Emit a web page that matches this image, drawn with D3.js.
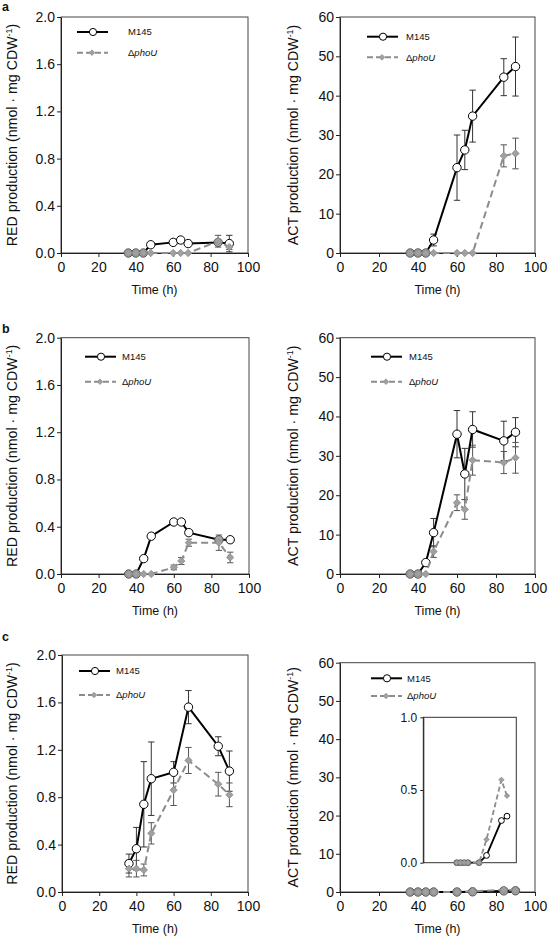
<!DOCTYPE html>
<html><head><meta charset="utf-8">
<script src="https://cdn.jsdelivr.net/npm/d3@7"></script>
<style>body{margin:0;background:#fff;} svg{display:block;font-family:"Liberation Sans",Arial,sans-serif;}</style>
</head><body>
<svg id="chart" width="548" height="939"></svg>
<script>
// ---------------- DATA ----------------
const timesAB = [36, 40, 44, 48, 60, 64, 68, 84, 90];
const timesC  = [36, 40, 44, 48, 60, 68, 84, 90];
const xTicks = [0, 20, 40, 60, 80, 100];
const redTicks = [0, 0.4, 0.8, 1.2, 1.6, 2.0];
const actTicks = [0, 10, 20, 30, 40, 50, 60];
const insetTicks = [0, 0.5, 1.0];
const seriesNames = ["M145", "ΔphoU"];
const panelLetters = ["a", "b", "c"];

// Row a
const redA_M145     = [0, 0, 0, 0.07, 0.09, 0.11, 0.08, 0.09, 0.08];
const redA_M145Err  = [0, 0, 0, 0.01, 0.01, 0.01, 0.01, 0.02, 0.07];
const redA_phoU     = [0, 0, 0, 0, 0, 0, 0, 0.10, 0.05];
const redA_phoUErr  = [0, 0, 0, 0, 0, 0, 0, 0.05, 0.02];
const actA_M145     = [0, 0, 0, 3.3, 21.7, 26.2, 34.8, 44.7, 47.4];
const actA_M145Err  = [0, 0, 0, 1.5, 8.3, 5.0, 6.6, 4.7, 7.5];
const actA_phoU     = [0, 0, 0, 0, 0, 0, 0, 24.7, 25.3];
const actA_phoUErr  = [0, 0, 0, 0, 0, 0, 0, 2.8, 3.9];
// Row b
const redB_M145     = [0, 0, 0.13, 0.32, 0.44, 0.44, 0.35, 0.29, 0.29];
const redB_M145Err  = [0, 0, 0.01, 0.01, 0.01, 0.01, 0.02, 0.02, 0.02];
const redB_phoU     = [0, 0, 0, 0, 0.056, 0.11, 0.265, 0.265, 0.14];
const redB_phoUErr  = [0, 0, 0, 0, 0.02, 0.03, 0.03, 0.065, 0.045];
const actB_M145     = [0, 0, 2.9, 10.5, 35.5, 25.4, 36.7, 33.8, 36.0];
const actB_M145Err  = [0, 0, 0.5, 3.6, 6.0, 6.5, 4.5, 5.0, 3.7];
const actB_phoU     = [0, 0, 0, 5.7, 18.1, 16.4, 28.9, 28.3, 29.5];
const actB_phoUErr  = [0, 0, 0, 1.5, 2.0, 2.5, 3.8, 2.8, 3.9];
// Row c
const redC_M145     = [0.24, 0.365, 0.74, 0.956, 1.01, 1.56, 1.23, 1.02];
const redC_M145Err  = [0.08, 0.18, 0.36, 0.31, 0.09, 0.14, 0.08, 0.17];
const redC_phoU     = [0.197, 0.197, 0.186, 0.495, 0.86, 1.11, 0.91, 0.82];
const redC_phoUErr  = [0.07, 0.07, 0.05, 0.09, 0.13, 0.11, 0.10, 0.10];
const actC_M145     = [0, 0, 0, 0, 0, 0.05, 0.29, 0.32];
const actC_M145Err  = [0, 0, 0, 0, 0, 0, 0, 0];
const actC_phoU     = [0, 0, 0, 0, 0, 0.16, 0.57, 0.46];
const actC_phoUErr  = [0, 0, 0, 0, 0, 0, 0, 0];

// ---------------- DRAWING ----------------
const svg = d3.select("#chart");
const FONT_TICK = 14, FONT_YTITLE = 14.2, FONT_XTITLE = 12.5, FONT_LEG = 9.5;

function yTitle(g, cx, cy, kind) {
  const t = g.append("text")
    .attr("transform", `translate(${cx},${cy}) rotate(-90)`)
    .attr("text-anchor", "middle")
    .attr("font-size", FONT_YTITLE)
    .attr("fill", "#111");
  t.append("tspan").text(kind + " production (nmol · mg CDW");
  t.append("tspan").attr("font-size", FONT_YTITLE * 0.62).attr("dy", -5.5).text("-1");
  t.append("tspan").attr("dy", 5.5).text(")");
}

function drawSeries(g, x, y, times, m, mErr, p, pErr, opt) {
  const rC = opt.rC, dSide = opt.dSide;
  const line = d3.line().x((d, i) => x(times[i])).y(d => y(d));
  const errs = [];
  times.forEach((t, i) => {
    if (mErr[i] > 0) errs.push({ t, v: m[i], e: mErr[i], c: "#333" });
    if (pErr[i] > 0) errs.push({ t, v: p[i], e: pErr[i], c: "#555" });
  });
  const eg = g.append("g");
  errs.forEach(d => {
    const cx = x(d.t), y1 = y(Math.max(0, d.v - d.e)), y2 = y(d.v + d.e);
    eg.append("line").attr("x1", cx).attr("x2", cx).attr("y1", y1).attr("y2", y2).attr("stroke", d.c).attr("stroke-width", 1);
    eg.append("line").attr("x1", cx - 3.2).attr("x2", cx + 3.2).attr("y1", y2).attr("y2", y2).attr("stroke", d.c).attr("stroke-width", 1);
    if (d.v - d.e > 0)
      eg.append("line").attr("x1", cx - 3.2).attr("x2", cx + 3.2).attr("y1", y1).attr("y2", y1).attr("stroke", d.c).attr("stroke-width", 1);
  });
  g.append("path").attr("d", line(m)).attr("fill", "none").attr("stroke", "#000").attr("stroke-width", opt.lw);
  g.selectAll(null).data(m).enter().append("circle")
    .attr("cx", (d, i) => x(times[i])).attr("cy", d => y(d)).attr("r", rC)
    .attr("fill", (d, i) => Math.abs(y(d) - y(p[i])) < 3 ? "#a4a4a4" : "#fff")
    .attr("stroke", (d, i) => Math.abs(y(d) - y(p[i])) < 3 ? "#555" : "#000")
    .attr("stroke-width", 1);
  g.append("path").attr("d", line(p)).attr("fill", "none").attr("stroke", "#8c8c8c")
    .attr("stroke-width", opt.lw).attr("stroke-dasharray", opt.dash);
  const sym = d3.symbol().type(d3.symbolSquare).size(dSide * dSide);
  g.selectAll(null).data(p).enter().append("path")
    .attr("d", sym)
    .attr("transform", (d, i) => `translate(${x(times[i])},${y(d)}) rotate(45)`)
    .attr("fill", "#a0a0a0").attr("stroke", "#8a8a8a").attr("stroke-width", 0.7);
}

function legend(g, lx, ly, dy, textDx) {
  g.append("line").attr("x1", lx).attr("x2", lx + 31).attr("y1", ly).attr("y2", ly).attr("stroke", "#000").attr("stroke-width", 2);
  g.append("circle").attr("cx", lx + 16).attr("cy", ly).attr("r", 3.6).attr("fill", "#fff").attr("stroke", "#000");
  g.append("text").attr("x", lx + textDx).attr("y", ly + 3.4).attr("font-size", FONT_LEG).attr("fill", "#111").text(seriesNames[0]);
  const y2 = ly + dy;
  g.append("line").attr("x1", lx).attr("x2", lx + 31).attr("y1", y2).attr("y2", y2).attr("stroke", "#8c8c8c").attr("stroke-width", 2).attr("stroke-dasharray", "6,3");
  g.append("path").attr("d", d3.symbol().type(d3.symbolSquare).size(16)).attr("transform", `translate(${lx + 15},${y2}) rotate(45)`).attr("fill", "#a0a0a0").attr("stroke", "#8a8a8a").attr("stroke-width", 0.6);
  const t = g.append("text").attr("x", lx + textDx).attr("y", y2 + 3.4).attr("font-size", FONT_LEG).attr("fill", "#111");
  t.append("tspan").text(seriesNames[1].charAt(0));
  t.append("tspan").attr("font-style", "italic").text(seriesNames[1].slice(1));
}

function panel(cfg) {
  const g = svg.append("g");
  const x = d3.scaleLinear().domain([0, 100]).range([cfg.l, cfg.r]);
  const y = d3.scaleLinear().domain([cfg.ticks[0], cfg.ticks[cfg.ticks.length - 1]]).range([cfg.b, cfg.t]);
  g.append("rect").attr("x", cfg.l).attr("y", cfg.t).attr("width", cfg.r - cfg.l).attr("height", cfg.b - cfg.t)
    .attr("fill", "none").attr("stroke", "#444").attr("stroke-width", 1);
  const xa = g.append("g").attr("transform", `translate(0,${cfg.b})`)
    .call(d3.axisBottom(x).tickValues(xTicks).tickSize(4).tickSizeOuter(0).tickPadding(5.5).tickFormat(d3.format("d")));
  const ya = g.append("g").attr("transform", `translate(${cfg.l},0)`)
    .call(d3.axisLeft(y).tickValues(cfg.ticks).tickSize(4).tickSizeOuter(0).tickPadding(2).tickFormat(cfg.fmt));
  [xa, ya].forEach(a => {
    a.select(".domain").attr("stroke", "#222");
    a.selectAll(".tick line").attr("stroke", "#222");
    a.selectAll("text").attr("font-size", FONT_TICK).attr("fill", "#111").attr("font-family", "Liberation Sans, Arial, sans-serif");
  });
  g.append("text").attr("x", (cfg.l + cfg.r) / 2).attr("y", cfg.b + 41).attr("text-anchor", "middle")
    .attr("font-size", FONT_XTITLE).attr("fill", "#111").text("Time (h)");
  yTitle(g, cfg.l - cfg.titleOff, (cfg.t + cfg.b) / 2, cfg.kind);
  drawSeries(g, x, y, cfg.times, cfg.m, cfg.mErr, cfg.p, cfg.pErr, { rC: 4.2, dSide: 5.2, lw: 2, dash: "7,4" });
  legend(g, cfg.l + cfg.leg[0], cfg.t + cfg.leg[1], cfg.leg[2], cfg.leg[3]);
  return g;
}

const fmtRed = d3.format(".1f"), fmtAct = d3.format("d");
panel({ l: 61, r: 248, t: 17, b: 253, ticks: redTicks, fmt: fmtRed, kind: "RED", titleOff: 44,
  times: timesAB, m: redA_M145, mErr: redA_M145Err, p: redA_phoU, pErr: redA_phoUErr, leg: [16, 15, 20.7, 51] });
panel({ l: 340, r: 535, t: 17, b: 253, ticks: actTicks, fmt: fmtAct, kind: "ACT", titleOff: 42,
  times: timesAB, m: actA_M145, mErr: actA_M145Err, p: actA_phoU, pErr: actA_phoUErr, leg: [27, 19.7, 20.6, 39] });
panel({ l: 61, r: 249, t: 337.7, b: 574, ticks: redTicks, fmt: fmtRed, kind: "RED", titleOff: 44,
  times: timesAB, m: redB_M145, mErr: redB_M145Err, p: redB_phoU, pErr: redB_phoUErr, leg: [24, 19, 25, 37] });
panel({ l: 340, r: 535, t: 337.7, b: 574, ticks: actTicks, fmt: fmtAct, kind: "ACT", titleOff: 42,
  times: timesAB, m: actB_M145, mErr: actB_M145Err, p: actB_phoU, pErr: actB_phoUErr, leg: [31, 19, 25, 38] });
panel({ l: 62, r: 248, t: 655, b: 892, ticks: redTicks, fmt: fmtRed, kind: "RED", titleOff: 45,
  times: timesC, m: redC_M145, mErr: redC_M145Err, p: redC_phoU, pErr: redC_phoUErr, leg: [17, 16, 24, 37] });
panel({ l: 340, r: 535, t: 662.7, b: 892, ticks: actTicks, fmt: fmtAct, kind: "ACT", titleOff: 42,
  times: timesC, m: actC_M145, mErr: actC_M145Err, p: actC_phoU, pErr: actC_phoUErr, leg: [31, 15.6, 17.7, 36] });

// inset in panel c (ACT)
(function inset() {
  const L = 423.3, R = 516.3, T = 717.3, B = 862.7;
  const g = svg.append("g");
  const x = d3.scaleLinear().domain([0, 100]).range([L, R]);
  const y = d3.scaleLinear().domain([0, 1]).range([B, T]);
  g.append("rect").attr("x", L).attr("y", T).attr("width", R - L).attr("height", B - T).attr("fill", "#fff").attr("stroke", "#333").attr("stroke-width", 1);
  const ya = g.append("g").attr("transform", `translate(${L},0)`)
    .call(d3.axisLeft(y).tickValues(insetTicks).tickSize(3).tickSizeOuter(0).tickPadding(3).tickFormat(d3.format(".1f")));
  ya.select(".domain").attr("stroke", "#222");
  ya.selectAll(".tick line").attr("stroke", "#222");
  ya.selectAll("text").attr("font-size", 12).attr("fill", "#111");
  drawSeries(g, x, y, timesC, actC_M145, actC_M145Err, actC_phoU, actC_phoUErr, { rC: 2.9, dSide: 3.8, lw: 1.8, dash: "5,3" });
})();

// panel letters
[[2, 10.5], [2, 333], [2, 641]].forEach((pos, i) => {
  svg.append("text").attr("x", pos[0]).attr("y", pos[1]).attr("font-size", 12.5).attr("font-weight", "bold").attr("fill", "#111").text(panelLetters[i]);
});
</script>
</body></html>
